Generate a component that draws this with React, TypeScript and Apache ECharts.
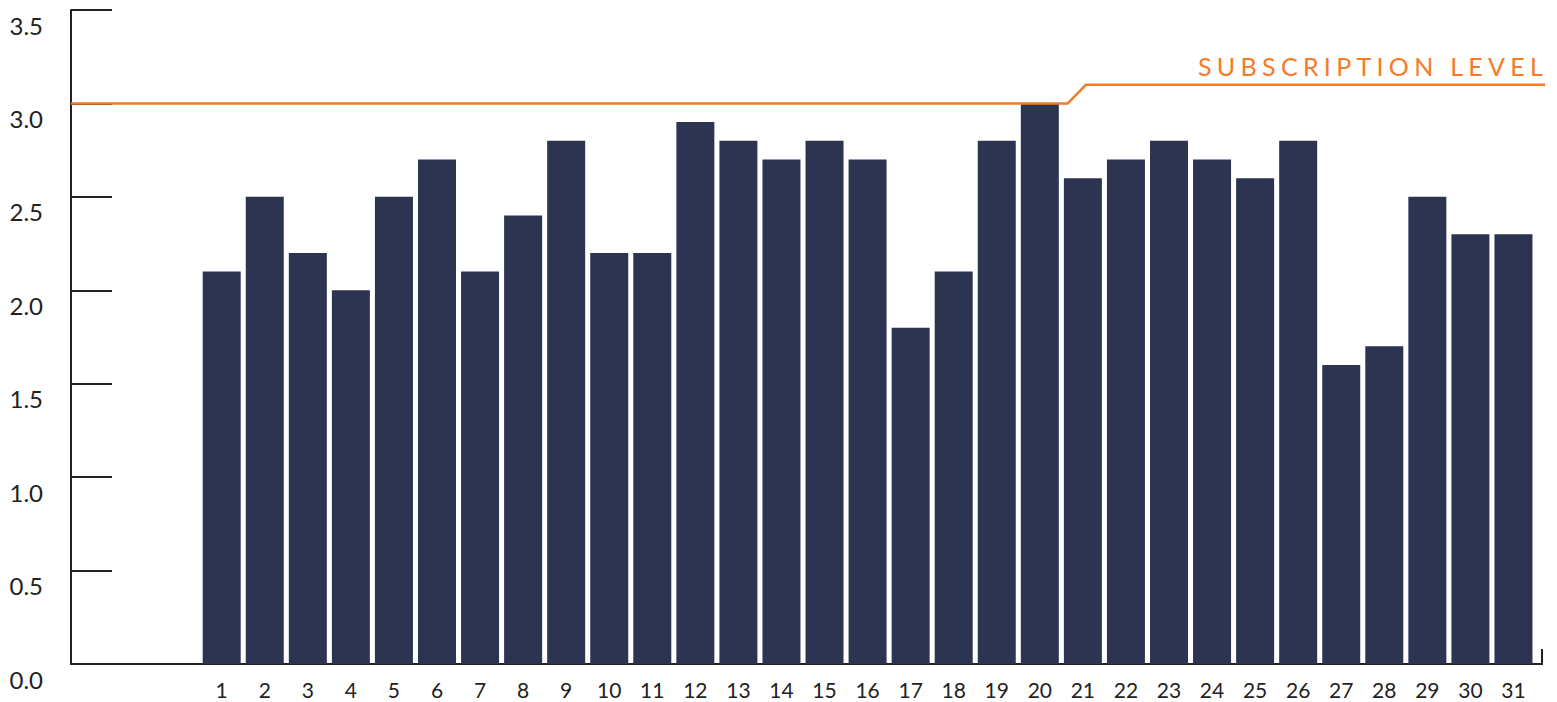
import React, { useEffect, useRef } from "react";
import * as echarts from "echarts";

const days: string[] = ["", "", "", "1", "2", "3", "4", "5", "6", "7", "8", "9", "10", "11", "12", "13", "14", "15", "16", "17", "18", "19", "20", "21", "22", "23", "24", "25", "26", "27", "28", "29", "30", "31"];
const usage: (number | null)[] = [null, null, null, 2.1, 2.5, 2.2, 2.0, 2.5, 2.7, 2.1, 2.4, 2.8, 2.2, 2.2, 2.9, 2.8, 2.7, 2.8, 2.7, 1.8, 2.1, 2.8, 3.0, 2.6, 2.7, 2.8, 2.7, 2.6, 2.8, 1.6, 1.7, 2.5, 2.3, 2.3];
const subscriptionX: number[] = [0, 23.15, 23.57, 34.23];
const subscriptionY: number[] = [3.0, 3.0, 3.1, 3.1];
const yTicks = { min: 0, max: 3.5, interval: 0.5 };

const NAVY = "#2c3452";
const ORANGE = "#f47b2a";
const INK = "#222222";

export default function App() {
  const ref = useRef<HTMLDivElement>(null);
  useEffect(() => {
    document.body.style.margin = "0";
    if (!ref.current) return;
    const chart = echarts.init(ref.current, undefined, { renderer: "svg" });
    chart.setOption({
      animation: false,
      grid: [
        { left: 71, top: 10, width: 1464, height: 654, containLabel: false },
        { left: 71, top: 10, width: 1474, height: 654, containLabel: false },
      ],
      xAxis: [
        {
          type: "category",
          gridIndex: 0,
          data: days,
          axisLine: { show: true, lineStyle: { color: INK, width: 2 } },
          axisTick: { show: false },
          axisLabel: {
            interval: 0,
            margin: 15,
            fontFamily: "Lato",
            fontSize: 21,
            color: INK,
            verticalAlign: "top",
          },
        },
        { type: "value", gridIndex: 1, min: 0, max: 34.23, show: false },
      ],
      yAxis: [
        {
          type: "value",
          gridIndex: 0,
          min: yTicks.min,
          max: yTicks.max,
          interval: yTicks.interval,
          splitLine: { show: false },
          axisLine: { show: true, lineStyle: { color: INK, width: 2 } },
          axisTick: { show: true, inside: true, length: 41, lineStyle: { color: INK, width: 2 } },
          axisLabel: {
            margin: 28,
            fontFamily: "Lato",
            fontSize: 24,
            color: INK,
            verticalAlign: "top",
            padding: [3, 0, 0, 0],
            formatter: (v: number) => v.toFixed(1),
          },
        },
        {
          type: "value",
          gridIndex: 1,
          min: yTicks.min,
          max: yTicks.max,
          show: false,
        },
      ],
      series: [
        {
          type: "bar",
          data: usage,
          barWidth: 38,
          itemStyle: { color: NAVY },
          xAxisIndex: 0,
          yAxisIndex: 0,
        },
        {
          type: "line",
          xAxisIndex: 1,
          yAxisIndex: 1,
          data: subscriptionX.map((x, i) => [x, subscriptionY[i]]),
          symbol: "none",
          clip: false,
          lineStyle: { color: ORANGE, width: 2.5 },
          z: 5,
        },
      ],
      graphic: [
        {
          type: "polyline",
          shape: { points: [[1534, 664], [1542, 664], [1542, 649]] },
          style: { stroke: INK, lineWidth: 2, fill: "none" },
        },
      ],
    });
    return () => chart.dispose();
  }, []);
  return (
    <div style={{ position: "relative", width: 1557, height: 702 }}>
      <div ref={ref} style={{ width: 1557, height: 702 }} />
      <div
        style={{
          position: "absolute",
          left: 1198,
          top: 54,
          fontFamily: "Lato",
          fontSize: 25,
          lineHeight: "25px",
          letterSpacing: "5.3px",
          color: ORANGE,
          whiteSpace: "nowrap",
        }}
      >
        SUBSCRIPTION LEVEL
      </div>
    </div>
  );
}
